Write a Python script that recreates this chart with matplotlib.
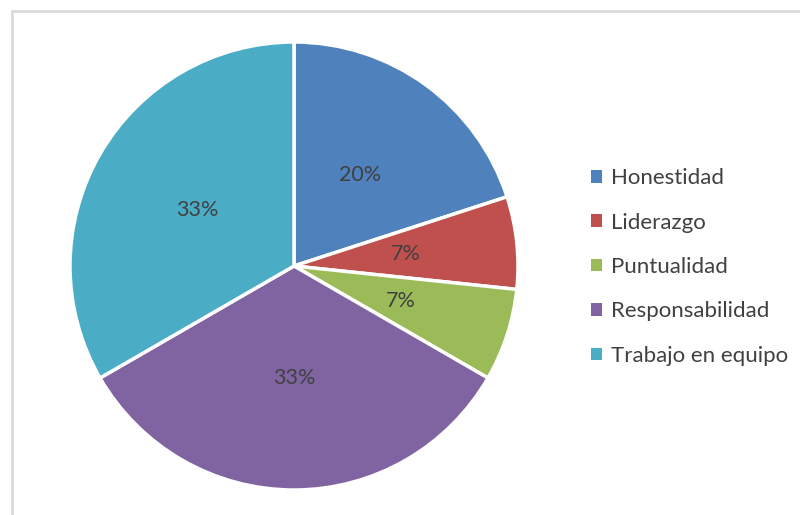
import matplotlib
matplotlib.use("Agg")
import matplotlib.pyplot as plt
from matplotlib.patches import Patch, Rectangle

plt.rcParams['font.family'] = ['Lato', 'DejaVu Sans']

categories = ["Honestidad", "Liderazgo", "Puntualidad", "Responsabilidad", "Trabajo en equipo"]
counts = [3, 1, 1, 5, 5]
colors = ["#4F81BD", "#C0504D", "#9BBB59", "#8064A2", "#4BACC6"]

fig = plt.figure(figsize=(8, 5.15), dpi=100)

# light grey chart-area frame, open towards right and bottom edges
fig.patches.append(Rectangle((12 / 800, -0.2), 1.2, 1.2 + (515 - 11) / 515 - 1.0,
                             transform=fig.transFigure, fill=False,
                             edgecolor="#d9d9d9", lw=2))

ax = fig.add_axes([70 / 800, 25 / 515, 448 / 800, 448 / 515])
wedges, texts, autotexts = ax.pie(
    counts, colors=colors, startangle=90, counterclock=False,
    autopct="%.0f%%", pctdistance=0.5,
    wedgeprops=dict(edgecolor="white", linewidth=2.5),
    textprops=dict(color="#404040", fontsize=15.5),
)
ax.set_xlim(-1, 1)
ax.set_ylim(-1, 1)
ax.set_aspect("equal")

handles = [Patch(facecolor=c, edgecolor="none") for c in colors]
fig.legend(handles, categories, loc="center left",
           bbox_to_anchor=(571 / 800, (515 - 267) / 515),
           frameon=False, fontsize=16, labelcolor="#404040",
           handlelength=0.5, handleheight=0.5, handletextpad=0.4,
           labelspacing=1.1)

fig.savefig("out.png", dpi=100)
